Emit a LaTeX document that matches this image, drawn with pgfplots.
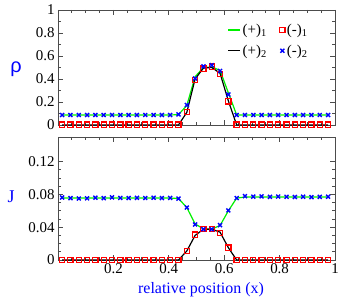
\documentclass[border=0pt]{standalone}
\usepackage{pgfplots}
\usepackage{pgfplotstable}
\pgfplotsset{compat=1.18}
\usepackage{fontspec}
\setmainfont{Liberation Serif}
\newfontfamily\sansf{Liberation Sans}
\definecolor{lgreen}{RGB}{0,240,0}
\definecolor{lred}{RGB}{255,0,0}
\definecolor{lblue}{RGB}{0,0,255}

% rho panel: x, green line (+)1, black line (+)2, red (-)1, blue (-)2
\pgfplotstableread{
x g k r b
0.015 0.087 0 0.004 0.087
0.045 0.087 0 0.004 0.087
0.075 0.087 0 0.004 0.087
0.105 0.087 0 0.004 0.087
0.135 0.087 0 0.004 0.087
0.165 0.087 0 0.004 0.087
0.195 0.087 0 0.004 0.087
0.225 0.087 0 0.004 0.087
0.255 0.087 0 0.004 0.087
0.285 0.087 0 0.004 0.087
0.315 0.087 0 0.004 0.087
0.345 0.087 0 0.004 0.087
0.375 0.087 0 0.004 0.087
0.405 0.087 0 0.004 0.087
0.435 0.090 0 0.004 0.092
0.465 0.170 0.11 0.115 0.174
0.495 0.420 0.40 0.390 0.405
0.525 0.500 0.495 0.490 0.510
0.555 0.505 0.500 0.507 0.520
0.585 0.475 0.450 0.445 0.470
0.615 0.280 0.210 0.205 0.265
0.645 0.087 0 0.004 0.087
0.675 0.087 0 0.004 0.087
0.705 0.087 0 0.004 0.087
0.735 0.087 0 0.004 0.087
0.765 0.087 0 0.004 0.087
0.795 0.087 0 0.004 0.087
0.825 0.087 0 0.004 0.087
0.855 0.087 0 0.004 0.087
0.885 0.087 0 0.004 0.087
0.915 0.087 0 0.004 0.087
0.945 0.087 0 0.004 0.087
0.975 0.087 0 0.004 0.087
}\rhotab

% J panel
\pgfplotstableread{
x g k r b
0.015 0.0757 0 0 0.0762
0.045 0.0756 0 0 0.0755
0.075 0.0755 0 0 0.0750
0.105 0.0755 0 0 0.0752
0.135 0.0756 0 0 0.0760
0.165 0.0756 0 0 0.0754
0.195 0.0757 0 0 0.0763
0.225 0.0756 0 0 0.0757
0.255 0.0756 0 0 0.0755
0.285 0.0756 0 0 0.0758
0.315 0.0756 0 0 0.0756
0.345 0.0756 0 0 0.0759
0.375 0.0755 0 0 0.0755
0.405 0.0755 0 0 0.0757
0.435 0.0750 0 0 0.0748
0.465 0.0640 0.011 0.011 0.0640
0.495 0.0440 0.030 0.031 0.0434
0.525 0.0380 0.0375 0.0375 0.0375
0.555 0.0378 0.0375 0.0375 0.0375
0.585 0.0420 0.034 0.033 0.0425
0.615 0.0600 0.015 0.015 0.0605
0.645 0.0755 0 0 0.0755
0.675 0.0768 0 0 0.0778
0.705 0.0768 0 0 0.0772
0.735 0.0768 0 0 0.0776
0.765 0.0768 0 0 0.0770
0.795 0.0768 0 0 0.0774
0.825 0.0768 0 0 0.0771
0.855 0.0768 0 0 0.0768
0.885 0.0768 0 0 0.0772
0.915 0.0768 0 0 0.0766
0.945 0.0768 0 0 0.0770
0.975 0.0768 0 0 0.0772
}\jtab

\pgfplotsset{
  myax/.style={
    scale only axis, width=277bp,
    xmin=0, xmax=1,
    tick align=inside,
    major tick length=5bp, minor tick length=3bp,
    axis line style={black!70, line width=0.8bp},
    every tick/.style={black!70, line width=0.7bp},
    tick label style={font=\fontsize{15}{15}\selectfont},
    /pgf/number format/assume math mode=true,
    xtick={0,0.2,0.4,0.6,0.8,1},
    minor x tick num=3,
    clip=false,
  },
  shortleg/.style={legend image code/.code={\draw[##1, line width=1.3bp] (0bp,0bp) -- (12bp,0bp);}},
  gline/.style={lgreen, line width=1.2bp, no marks},
  kline/.style={black, line width=1.2bp, no marks},
  rmark/.style={only marks, mark=square, mark size=2.6bp, lred, mark options={line width=1.2bp, solid}},
  bmark/.style={only marks, mark=x, mark size=2.8bp, lblue, mark options={line width=1.4bp, solid}},
}

\begin{document}
\begin{tikzpicture}
\useasboundingbox (-58bp,-45bp) rectangle (302bp,260bp);

% top panel: rho
\begin{axis}[myax,
  at={(0bp,135bp)}, anchor=south west,
  height=115bp,
  ymin=0, ymax=1,
  ytick={0,0.2,0.4,0.6,0.8,1},
  yticklabels={0,0.2,0.4,0.6,0.8,1},
  minor y tick num=1,
  xticklabels={},
  legend columns=2,
  legend style={draw=none, fill=none, at={(0.6,0.915)}, anchor=north west,
    font=\fontsize{15}{15}\selectfont, row sep=5bp,
    /tikz/every even column/.append style={column sep=11bp}},
]
\addplot[gline, shortleg] table[x=x,y=g] {\rhotab};
\addlegendentry{(+)\textsubscript{1}}
\addplot[rmark] table[x=x,y=r] {\rhotab};
\addlegendentry{(-)\textsubscript{1}}
\addplot[kline, shortleg] table[x=x,y=k] {\rhotab};
\addlegendentry{(+)\textsubscript{2}}
\addplot[bmark] table[x=x,y=b] {\rhotab};
\addlegendentry{(-)\textsubscript{2}}
\end{axis}

% bottom panel: J
\begin{axis}[myax,
  at={(0bp,0bp)}, anchor=south west,
  height=123bp,
  ymin=0, ymax=0.15,
  ytick={0,0.04,0.08,0.12},
  yticklabels={0,0.04,0.08,0.12},
  minor y tick num=3,
  xticklabels={{},0.2,0.4,0.6,0.8,1},
]
\addplot[gline] table[x=x,y=g] {\jtab};
\addplot[kline] table[x=x,y=k] {\jtab};
\addplot[rmark] table[x=x,y=r] {\jtab};
\addplot[bmark] table[x=x,y=b] {\jtab};
\end{axis}

\node[lblue, font=\sansf\fontsize{20}{20}\selectfont] at (-42bp,191bp) {ρ};
\node[lblue, font=\fontsize{18}{18}\selectfont] at (-47bp,63bp) {J};
\node[lblue, font=\fontsize{16}{16}\selectfont] at (143bp,-30bp) {relative position (x)};
\end{tikzpicture}
\end{document}
